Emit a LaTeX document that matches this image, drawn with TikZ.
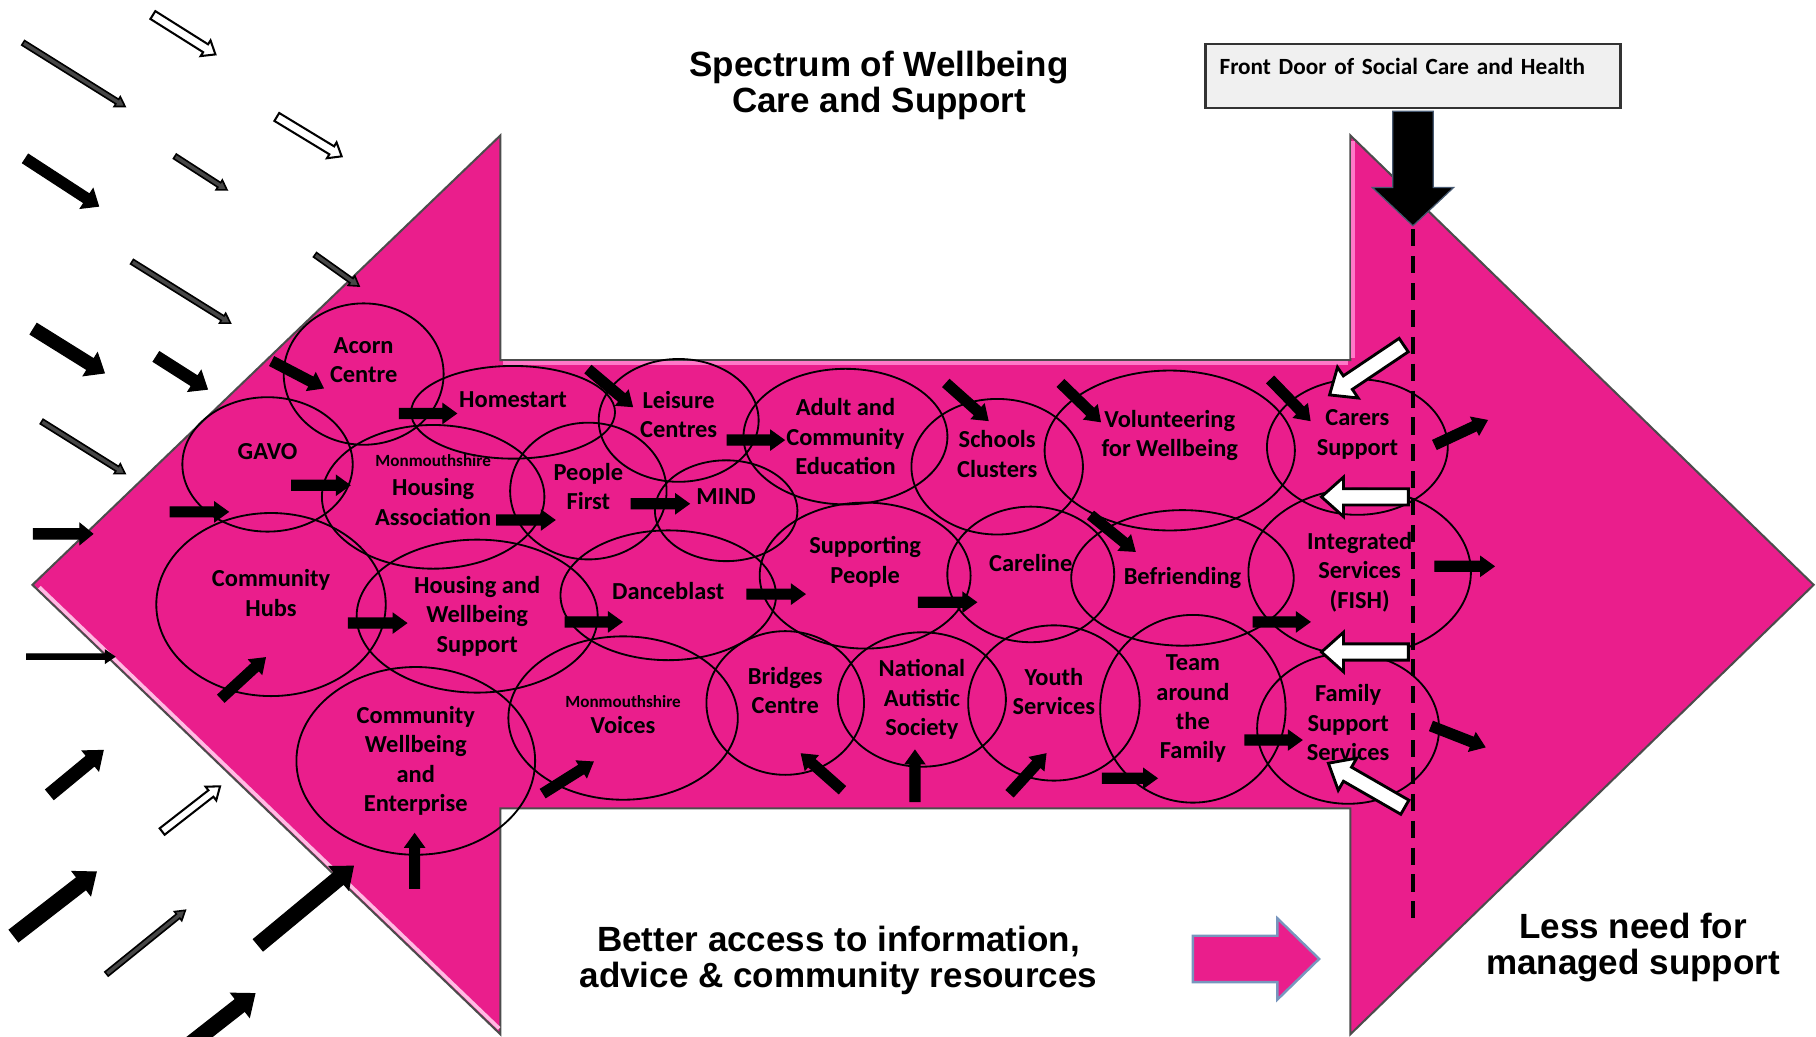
\documentclass[tikz,border=0pt]{standalone}
\usepackage{fontspec}
\setmainfont{Carlito}
\newfontfamily\headfont{Liberation Sans}
\usetikzlibrary{calc,shapes.geometric,positioning}
\definecolor{spectrum}{RGB}{234,30,140}
\definecolor{shine}{RGB}{255,120,200}
\definecolor{doorgrey}{RGB}{240,240,240}
\definecolor{steel}{RGB}{120,150,190}
\newcommand{\lblfont}{\fontsize{6}{7.2}\selectfont\bfseries}
\newcommand{\smallname}[1]{{\fontsize{4.2}{5}\selectfont #1}}
\newcommand{\flowarrow}[6][fill=black]{%
  \coordinate (fa-s) at #2;
  \coordinate (fa-e) at #3;
  \coordinate (fa-n) at ($(fa-e)!#6*0.1mm!(fa-s)$);
  \filldraw[line width=0.3pt, #1]
    ($(fa-s)!#4*0.1mm!90:(fa-e)$) -- ($(fa-n)!#4*0.1mm!90:(fa-e)$)
    -- ($(fa-n)!#5*0.1mm!90:(fa-e)$) -- (fa-e)
    -- ($(fa-n)!#5*0.1mm!-90:(fa-e)$) -- ($(fa-n)!#4*0.1mm!-90:(fa-e)$)
    -- ($(fa-s)!#4*0.1mm!-90:(fa-e)$) -- cycle;}
\newcommand{\inarrow}[2]{\flowarrow{#1}{#2}{4.3}{8.3}{11.5}}
\tikzset{blob/.style 2 args={draw, ellipse, line width=0.45pt, inner sep=0pt, minimum width=#1mm, minimum height=#2mm}}
\tikzset{every label/.style={font=\lblfont, align=center, inner sep=0pt}}
\tikzstyle{bigtext}=[font=\headfont\bfseries\fontsize{8.6}{8.8}\selectfont, align=center]
\tikzstyle{hollow}=[fill=white, draw=black, line width=0.5pt]
\tikzstyle{dark}=[fill=black!72, draw=black, line width=0.4pt]

\begin{document}
\begin{tikzpicture}[x=0.01cm, y=-0.01cm]
\useasboundingbox (0,0) rectangle (1568,895);

\filldraw[fill=spectrum, draw=black!70, line width=0.5pt] (28,505) -- (432,117) -- (432,311) -- (1166,311) -- (1166,117)
  -- (1566,505) -- (1166,893) -- (1166,698) -- (432,698) -- (432,893) -- cycle;
\draw[shine, line width=0.9pt] (434,313.5) -- (1164,313.5);
\draw[shine, line width=0.9pt] (1168.5,122) -- (1168.5,309);
\draw[white!50!shine, line width=0.9pt] (34,507) -- (431,888);

\node[blob={13.8}{12.2}, label={[yshift=1.2mm]center:Acorn\\Centre}] (acorn) at (314,323) {};
\node[blob={14.7}{11.6}, label={[yshift=1.1mm]center:GAVO}] (gavo) at (231,401) {};
\node[blob={17.6}{8.0}, label={[yshift=1.1mm]center:Homestart}] (homestart) at (443,356) {};
\node[blob={19.2}{12.4}, label={[yshift=0.6mm]center:\smallname{Monmouthshire}\\Housing\\Association}] (housingassoc) at (374,429) {};
\node[blob={13.5}{11.8}, label={[yshift=0.4mm]center:People\\First}] (peoplefirst) at (508,424) {};
\node[blob={13.8}{10.6}, label={[yshift=0.5mm]center:Leisure\\Centres}] (leisure) at (586,363) {};
\node[blob={12.3}{8.7}, label={[yshift=1.2mm]center:MIND}] (mind) at (627,441) {};
\node[blob={17.6}{11.7}, label={center:Adult and\\Community\\Education}] (adulted) at (730,377) {};
\node[blob={14.8}{11.7}, label={[yshift=1.1mm]center:Schools\\Clusters}] (schools) at (861,403) {};
\node[blob={21.6}{13.8}, label={[yshift=1.3mm]center:Volunteering\\for Wellbeing}] (volunteering) at (1010,389) {};
\node[blob={15.6}{11.7}, label={[yshift=1.1mm]center:Carers\\Support}] (carers) at (1172,386) {};
\node[blob={18.2}{12.6}, label={[yshift=1.2mm]center:Supporting\\People}] (supporting) at (747,497) {};
\node[blob={18.6}{11.2}, label={[yshift=0.4mm]center:Danceblast}] (danceblast) at (577,514) {};
\node[blob={14.4}{11.7}, label={[yshift=1.0mm]center:Careline}] (careline) at (890,496) {};
\node[blob={19.2}{11.7}, label={center:Befriending}] (befriending) at (1021,499) {};
\node[blob={19.2}{14.4}, label={center:Integrated\\Services\\(FISH)}] (fish) at (1174,494) {};
\node[blob={19.8}{15.8}, label={[yshift=1.0mm]center:Community\\Hubs}] (hubs) at (234,522) {};
\node[blob={20.8}{13.2}, label={center:Housing and\\Wellbeing\\Support}] (housingwb) at (412,532) {};
\node[blob={20.6}{16.2}, label={center:Community\\Wellbeing\\and\\Enterprise}] (enterprise) at (359,657) {};
\node[blob={19.8}{14.1}, label={[yshift=0.3mm]center:\smallname{Monmouthshire}\\[-0.7pt]Voices}] (voices) at (538,620) {};
\node[blob={13.6}{12.4}, label={[yshift=1.1mm]center:Bridges\\Centre}] (bridges) at (678,607) {};
\node[blob={14.5}{11.6}, label={center:National\\Autistic\\Society}] (autistic) at (796,604) {};
\node[blob={14.8}{13.4}, label={[yshift=1.0mm]center:Youth\\Services}] (youth) at (910,607) {};
\node[blob={16.0}{16.2}, label={center:Team\\around\\the\\Family}] (team) at (1030,612) {};
\node[blob={15.7}{13.0}, label={[yshift=0.5mm]center:Family\\Support\\Services}] (family) at (1164,629) {};

\flowarrow[hollow]{(132,13)}{(186,47)}{4}{8}{10}
\flowarrow[dark]{(20,37)}{(108,92)}{2.3}{5}{8}
\flowarrow[hollow]{(239,101)}{(295,135)}{4}{8}{10}
\flowarrow{(22,137)}{(85,178)}{4.5}{10}{12}
\flowarrow[dark]{(151,135)}{(196,164)}{2.3}{5}{8}
\flowarrow[dark]{(114,226)}{(199,279)}{2.3}{5}{8}
\flowarrow[dark]{(272,220)}{(310,247)}{2.3}{5}{8}
\flowarrow{(29,284)}{(90,322)}{5.5}{11.5}{14}
\flowarrow{(135,308)}{(179,336)}{5}{10.5}{13}
\flowarrow[dark]{(36,364)}{(108,409)}{2.3}{5}{8}
\flowarrow{(29,461)}{(80,461)}{4.5}{9}{11}
\flowarrow{(23,567)}{(99,567)}{2.3}{5.5}{8}
\flowarrow{(43,686)}{(89,648)}{5.5}{11}{14}
\flowarrow[hollow]{(140,718)}{(190,679)}{3.5}{7.5}{10}
\flowarrow{(12,808)}{(83,753)}{6.5}{13}{16}
\flowarrow[dark]{(92,841)}{(160,786)}{2.3}{5}{8}
\flowarrow{(223,816)}{(305,748)}{6.5}{13}{16}
\flowarrow{(160,905)}{(220,858)}{6.5}{13}{16}

\inarrow{(235,312)}{(279,335)}
\inarrow{(345,357)}{(394,357)}
\inarrow{(147,442)}{(197,442)}
\inarrow{(252,419)}{(302,419)}
\inarrow{(429,449)}{(479,449)}
\inarrow{(508,319)}{(546,351)}
\inarrow{(545,435)}{(595,435)}
\inarrow{(628,380)}{(677,380)}
\inarrow{(817,331)}{(853,363)}
\inarrow{(916,331)}{(950,364)}
\inarrow{(1097,328)}{(1131,363)}
\inarrow{(942,445)}{(980,476)}
\inarrow{(301,538)}{(351,538)}
\inarrow{(488,537)}{(537,537)}
\inarrow{(645,513)}{(695,513)}
\inarrow{(793,520)}{(843,520)}
\inarrow{(1082,537)}{(1131,537)}
\inarrow{(191,603)}{(229,568)}
\inarrow{(358,767)}{(358,720)}
\inarrow{(469,685)}{(512,658)}
\inarrow{(727,682)}{(692,651)}
\inarrow{(790,692)}{(790,648)}
\inarrow{(872,685)}{(903,651)}
\inarrow{(952,672)}{(999,672)}
\inarrow{(1075,639)}{(1124,639)}
\inarrow{(1239,384)}{(1284,363)}
\inarrow{(1239,489)}{(1290,489)}
\inarrow{(1236,627)}{(1282,645)}

\flowarrow[hollow, line width=0.7pt]{(1212,298)}{(1148,341)}{7}{16}{19}
\flowarrow[hollow, line width=0.7pt]{(1216,429)}{(1141,429)}{7}{17}{19}
\flowarrow[hollow, line width=0.7pt]{(1216,563)}{(1141,563)}{7}{17}{19}
\flowarrow[hollow, line width=0.7pt]{(1213,697)}{(1147,659)}{7}{16}{19}

\node[draw=black!80, fill=doorgrey, line width=0.6pt, anchor=north west, text width=33.4mm, align=left,
  inner xsep=1.2mm, inner ysep=3pt, text height=4.5pt, text depth=5.15pt, font=\fontsize{5.7}{7}\selectfont\bfseries]
  (door) at (1040,37) {Front Door of Social Care and Health};
\flowarrow[fill=black, draw=steel!60!black]{(1220,96)}{(1220,195)}{17.5}{35}{33}
\coordinate (doortip) at (1220,198);
\coordinate (doorend) at (1220,800);
\draw[line width=0.9pt, dash pattern=on 4.2pt off 2.4pt] (doortip) -- (doorend);

\flowarrow[fill=spectrum, draw=steel, line width=0.6pt]{(1030,828)}{(1139,828)}{20}{35}{36}

\node[bigtext] (title) at (759,74) {Spectrum of Wellbeing\\Care and Support};
\node[bigtext] (access) at (724,829) {Better access to information,\\advice \& community resources};
\node[bigtext] (lessneed) at (1410,818) {Less need for\\managed support};
\end{tikzpicture}
\end{document}
